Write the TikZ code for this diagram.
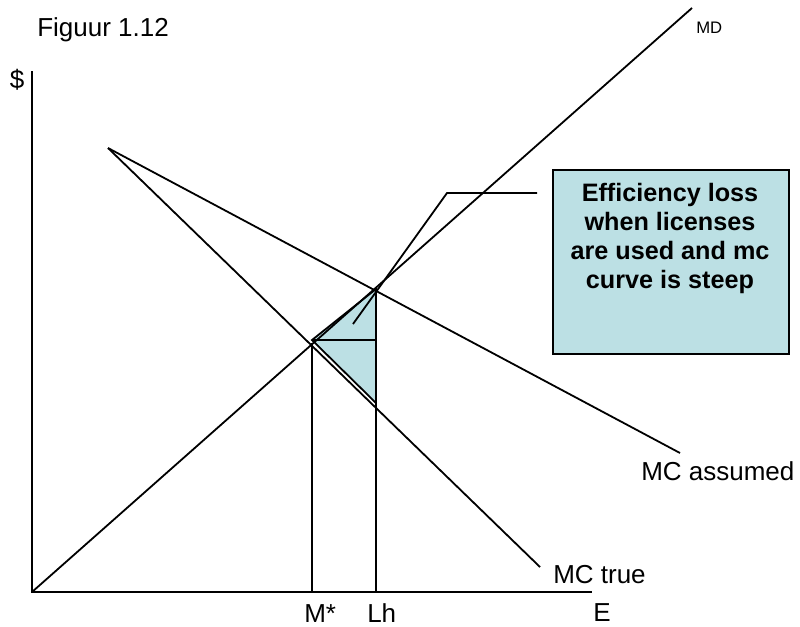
\documentclass[tikz,border=0pt]{standalone}
\usepackage{fontspec}
\setmainfont{Liberation Sans}
\definecolor{lossfill}{RGB}{188,224,228}
\tikzset{
  curve/.style={line width=1.35pt, draw=black},
  axisline/.style={line width=1.5pt, draw=black},
  lbl/.style={inner sep=0pt, font=\fontsize{19.5}{23}\selectfont},
  smalllbl/.style={inner sep=0pt, font=\fontsize{12.5}{15}\selectfont},
  infobox/.style={draw=black, line width=1.3pt, fill=lossfill, align=center, inner sep=0pt,
    font=\bfseries\fontsize{18.9}{21.75}\selectfont}
}
\begin{document}
\begin{tikzpicture}[x=0.75pt,y=-0.75pt]
\useasboundingbox (0,0) rectangle (800,626);
% key points
\coordinate (O) at (32,592);
\coordinate (ytop) at (32,71);
\coordinate (xend) at (592,592);
\coordinate (MDend) at (692,8);
\coordinate (MCstart) at (108,148);
\coordinate (MCAend) at (680,453);
\coordinate (MCTend) at (540,567);
\coordinate (A) at (312,340);
\coordinate (B) at (376,289);
\coordinate (C) at (376,403);
\coordinate (Mtop) at (312,343);
\coordinate (Mbot) at (312,592);
\coordinate (Lbot) at (376,592);
\coordinate (H) at (376,340);
\coordinate (c1) at (353,324);
\coordinate (c2) at (447,193);
\coordinate (c3) at (537,193);
% shaded triangle
\path[curve, fill=lossfill] (A) -- (B) -- (C) -- cycle;
% axes
\draw[axisline] (ytop) -- (O) -- (xend);
% curves
\draw[curve] (O) -- (MDend);
\draw[curve] (MCstart) -- (MCAend);
\draw[curve] (MCstart) -- (MCTend);
% verticals and horizontal
\draw[curve] (Mtop) -- (Mbot);
\draw[curve] (B) -- (Lbot);
\draw[curve] (A) -- (H);
% callout
\draw[curve] (c1) -- (c2) -- (c3);
% box
\node[infobox, minimum width=236*0.75pt, minimum height=184*0.75pt, anchor=north west] (box) at (552,169) {};
\node[infobox, draw=none, fill=none, anchor=base] (boxtext) at (670,288)
  {Efficiency loss\\when licenses\\are used and mc\\curve is steep};
% labels
\node[lbl, anchor=base west] (title) at (37,36) {Figuur 1.12};
\node[lbl, anchor=base] (dollar) at (17,88) {\$};
\node[smalllbl, anchor=base west] (mdl) at (696,33) {MD};
\node[lbl, anchor=base west] (mca) at (641,480) {MC assumed};
\node[lbl, anchor=base west] (mct) at (553,583) {MC true};
\node[lbl, anchor=base west] (el) at (593,621) {E};
\node[lbl, anchor=base west] (msl) at (304,622) {M*};
\node[lbl, anchor=base west] (lhl) at (367,622) {Lh};
\end{tikzpicture}
\end{document}
